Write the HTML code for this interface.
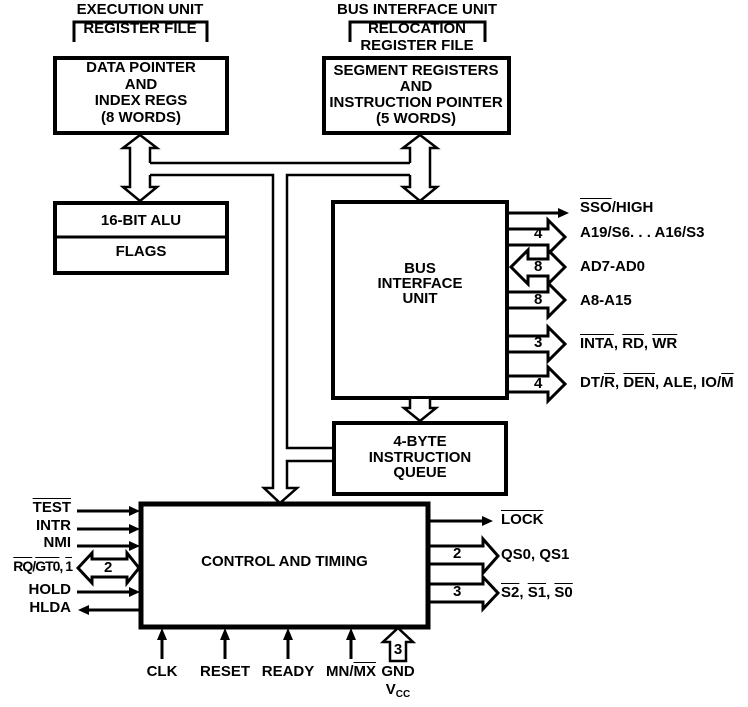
<!DOCTYPE html>
<html><head><style>
html,body{margin:0;padding:0;background:#fff;width:748px;height:707px;overflow:hidden}
svg{position:absolute;left:0;top:0;display:block}
.t{position:absolute;font-family:"Liberation Sans",Arial,sans-serif;font-weight:bold;font-size:15px;line-height:16px;color:#000;white-space:nowrap}
.c{text-align:center}
.r{text-align:right}
.o{text-decoration:overline}
</style></head><body>
<svg width="748" height="707" viewBox="0 0 748 707" xmlns="http://www.w3.org/2000/svg">
<g fill="none" stroke="#000">
<path d="M74,42 V22 H207 V42" stroke-width="3"/>
<path d="M350,42 V22 H485 V42" stroke-width="3"/>
<rect x="55" y="58" width="172" height="75" stroke-width="4"/>
<rect x="324" y="58" width="185" height="75" stroke-width="4"/>
<rect x="55" y="203" width="172" height="70" stroke-width="4"/>
<line x1="55" y1="237" x2="227" y2="237" stroke-width="3"/>
<rect x="333" y="202" width="174" height="196" stroke-width="4"/>
<rect x="334" y="423" width="172" height="71" stroke-width="4"/>
<rect x="141" y="504" width="287" height="123" stroke-width="5"/>
</g>
<g fill="#fff" stroke="#000" stroke-width="2.5">
<path d="M150,163 V148 H157 L140,135 L123,148 H130 V187 H123 L140,201 L157,187 H150 V175"/>
<path d="M410,163 V148 H403 L420,135 L437,148 H430 V187 H437 L420,201 L403,187 H410 V175"/>
<path d="M150,163 H410" fill="none"/>
<path d="M150,175 H273 V488 H264 L280,503 L297,488 H287 V461 H334" fill="none"/>
<path d="M334,448 H287 V175 H410" fill="none"/>
<path d="M410,399 V408 H404 L420,421 L436,408 H430 V399"/>
<path d="M390,661 V642 H383 L398,628 L413,642 H406 V661 Z"/>
</g>
<g stroke="#000" stroke-width="3" fill="none">
<line x1="508" y1="213" x2="560" y2="213"/>
<path d="M508,229 H548 V220 L565,237 L548,254 V245 H508"/>
<path d="M528,259 H548 V250 L565,267 L548,284 V276 H528 V284 L511,267 L528,250 Z" fill="#fff"/>
<path d="M508,292 H548 V283 L565,300 L548,317 V308 H508"/>
<path d="M508,336 H548 V327 L565,344 L548,361 V352 H508"/>
<path d="M508,376 H548 V367 L565,384 L548,401 V392 H508"/>
<line x1="429" y1="521" x2="482" y2="521"/>
<path d="M429,546 H483 V539 L498,556 L483,573 V564 H429"/>
<path d="M429,584 H483 V577 L498,593 L483,609 V602 H429"/>
<line x1="77" y1="511" x2="130" y2="511"/>
<line x1="77" y1="529" x2="130" y2="529"/>
<line x1="77" y1="546" x2="130" y2="546"/>
<line x1="77" y1="592" x2="130" y2="592"/>
<line x1="88" y1="610" x2="140" y2="610"/>
<path d="M92,559 H127 V553 L139,568 L127,583 V577 H92 V583 L78,568 L92,553 Z" fill="#fff"/>
<line x1="162" y1="659" x2="162" y2="638"/>
<line x1="225" y1="659" x2="225" y2="638"/>
<line x1="288" y1="659" x2="288" y2="638"/>
<line x1="351" y1="659" x2="351" y2="638"/>
</g>
<g fill="#000" stroke="none">
<path d="M558,208 L569,213 L558,218 Z"/>
<path d="M482,516 L493,521 L482,526 Z"/>
<path d="M129,506 L140,511 L129,516 Z"/>
<path d="M129,524 L140,529 L129,534 Z"/>
<path d="M129,541 L140,546 L129,551 Z"/>
<path d="M129,587 L140,592 L129,597 Z"/>
<path d="M89,605 L78,610 L89,615 Z"/>
<path d="M157,640 L162,628 L167,640 Z"/>
<path d="M220,640 L225,628 L230,640 Z"/>
<path d="M283,640 L288,628 L293,640 Z"/>
<path d="M346,640 L351,628 L356,640 Z"/>
</g>
</svg>

<div class="t c" style="left:40px;top:2px;width:200px">EXECUTION UNIT</div>
<div class="t c" style="left:40px;top:21px;width:200px">REGISTER FILE</div>
<div class="t c" style="left:317px;top:2px;width:200px">BUS INTERFACE UNIT</div>
<div class="t c" style="left:317px;top:21px;width:200px">RELOCATION</div>
<div class="t c" style="left:317px;top:38px;width:200px">REGISTER FILE</div>

<div class="t c" style="left:55px;top:60px;width:172px;line-height:16.5px">DATA POINTER<br>AND<br>INDEX REGS<br>(8 WORDS)</div>
<div class="t c" style="left:310px;top:63px;width:212px">SEGMENT REGISTERS<br>AND<br>INSTRUCTION POINTER<br>(5 WORDS)</div>
<div class="t c" style="left:55px;top:213px;width:172px">16-BIT ALU</div>
<div class="t c" style="left:55px;top:244px;width:172px">FLAGS</div>
<div class="t c" style="left:333px;top:261px;width:174px;line-height:15px">BUS<br>INTERFACE<br>UNIT</div>
<div class="t c" style="left:334px;top:434px;width:172px;line-height:15.5px">4-BYTE<br>INSTRUCTION<br>QUEUE</div>
<div class="t c" style="left:141px;top:554px;width:287px">CONTROL AND TIMING</div>

<div class="t" style="left:580px;top:200px"><span class="o">SSO</span>/HIGH</div>
<div class="t" style="left:580px;top:225px">A19/S6. . . A16/S3</div>
<div class="t" style="left:580px;top:259px">AD7-AD0</div>
<div class="t" style="left:580px;top:293px">A8-A15</div>
<div class="t" style="left:580px;top:336px"><span class="o">INTA</span>, <span class="o">RD</span>, <span class="o">WR</span></div>
<div class="t" style="left:580px;top:375px">DT/<span class="o">R</span>, <span class="o">DEN</span>, ALE, IO/<span class="o">M</span></div>
<div class="t" style="left:534px;top:226px">4</div>
<div class="t" style="left:534px;top:259px">8</div>
<div class="t" style="left:534px;top:292px">8</div>
<div class="t" style="left:534px;top:335px">3</div>
<div class="t" style="left:534px;top:376px">4</div>

<div class="t" style="left:501px;top:512px"><span class="o">LOCK</span></div>
<div class="t" style="left:501px;top:547px">QS0, QS1</div>
<div class="t" style="left:501px;top:585px"><span class="o">S2</span>, <span class="o">S1</span>, <span class="o">S0</span></div>
<div class="t" style="left:453px;top:546px">2</div>
<div class="t" style="left:453px;top:584px">3</div>

<div class="t r" style="left:0px;top:500px;width:71px"><span class="o">TEST</span></div>
<div class="t r" style="left:0px;top:518px;width:71px">INTR</div>
<div class="t r" style="left:0px;top:535px;width:71px">NMI</div>
<div class="t r" style="left:0px;top:558px;width:72px;letter-spacing:-1px;font-size:14px"><span class="o">RQ</span>/<span class="o">GT0</span>, <span class="o">1</span></div>
<div class="t r" style="left:0px;top:582px;width:71px">HOLD</div>
<div class="t r" style="left:0px;top:600px;width:71px">HLDA</div>
<div class="t" style="left:104px;top:560px">2</div>

<div class="t c" style="left:122px;top:664px;width:80px">CLK</div>
<div class="t c" style="left:185px;top:664px;width:80px">RESET</div>
<div class="t c" style="left:248px;top:664px;width:80px">READY</div>
<div class="t c" style="left:311px;top:664px;width:80px">MN/<span class="o">MX</span></div>
<div class="t c" style="left:368px;top:664px;width:60px">GND</div>
<div class="t c" style="left:368px;top:682px;width:60px">V<span style="font-size:10px;vertical-align:-3px">CC</span></div>
<div class="t c" style="left:388px;top:642px;width:20px">3</div>
</body></html>
